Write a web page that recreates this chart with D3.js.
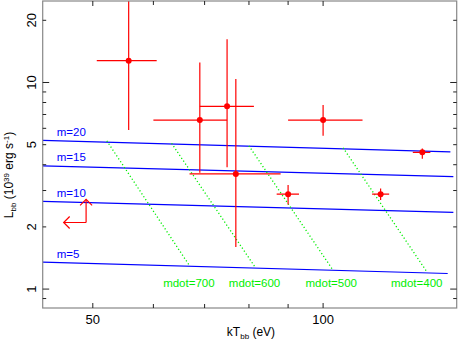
<!DOCTYPE html>
<html><head><meta charset="utf-8">
<script src="https://cdn.jsdelivr.net/npm/d3@7"></script>
<style>body{margin:0;background:#fff}svg{display:block}text{font-family:"Liberation Sans",Arial,Helvetica,sans-serif}</style>
</head><body><svg id="c" width="459" height="343"></svg>
<script>
// ---- axes ----
const xDomain = [43, 149.5];
const yDomain = [0.81, 24.8];
const xTickLabels = [50, 100];
const xTicksMinor = [60, 70, 80, 90];
const yTickLabels = [1, 2, 5, 10, 20];
const yTicksLong = [1, 10];
const yTicksMinor = [0.9, 2, 3, 4, 5, 6, 7, 8, 9, 20];

// ---- data points (kT in eV, L in 1e39 erg/s) ----
const pointT   = [55.7, 69.0, 74.9, 76.9, 100.0, 134.8, 90.0, 118.9];
const pointTlo = [50.6, 60.0, 69.0, 66.9, 90.0, 131.0, 86.96, 115.9];
const pointThi = [60.6, 74.9, 81.2, 88.0, 112.6, 138.1, 93.0, 122.0];
const pointL   = [12.75, 6.58, 7.67, 3.61, 6.58, 4.59, 2.88, 2.88];
const pointLlo = [5.89, 3.66, 3.89, 1.60, 5.53, 4.28, 2.57, 2.70];
const pointLhi = [30, 12.5, 16.2, 10.4, 7.78, 4.79, 3.19, 3.07];

// ---- limit (upper limit on kT, lower limit on L) ----
const limitT = [49.0], limitL = [2.10], limitTto = [45.8], limitLto = [2.72];

// ---- constant-m model lines ----
const mLabels = ["m=20", "m=15", "m=10", "m=5"];
const mT0 = [43, 43, 43, 43];
const mT1 = [146.7, 148, 148, 145.5];
const mL0 = [5.25, 3.95, 2.66, 1.35];
const mL1 = [4.62, 3.50, 2.35, 1.19];

// ---- constant-mdot model lines ----
const mdotLabels = ["mdot=700", "mdot=600", "mdot=500", "mdot=400"];
const mdotT0 = [52.15, 63.38, 79.98, 106.2];
const mdotT1 = [66.97, 81.6, 102.8, 136.5];
const mdotL0 = [5.22, 5.08, 4.94, 4.83];
const mdotL1 = [1.29, 1.268, 1.25, 1.22];

const W = 459, H = 343;
const m = {l: 42.7, r: 456.7, t: 1, b: 308};
const svg = d3.select("#c");
const x = d3.scaleLog().domain(xDomain).range([m.l, m.r]);
const y = d3.scaleLog().domain(yDomain).range([m.b, m.t]);

const RED = "#ff0000", BLUE = "#0000ff", GREEN = "#00ee00";

const defs = svg.append("defs");
defs.append("clipPath").attr("id", "clip").append("rect")
  .attr("x", m.l).attr("y", m.t).attr("width", m.r - m.l).attr("height", m.b - m.t);

const plot = svg.append("g").attr("clip-path", "url(#clip)");

// m lines
mLabels.forEach((lab, i) => {
  plot.append("line")
    .attr("x1", x(mT0[i])).attr("y1", y(mL0[i]))
    .attr("x2", x(mT1[i])).attr("y2", y(mL1[i]))
    .attr("stroke", BLUE).attr("stroke-width", 1.2);
  const tx = 44.85;
  const frac = Math.log(tx / mT0[i]) / Math.log(mT1[i] / mT0[i]);
  const ly = Math.exp(Math.log(mL0[i]) + frac * (Math.log(mL1[i]) - Math.log(mL0[i])));
  svg.append("text").attr("x", x(tx)).attr("y", y(ly) - 5)
    .attr("font-size", 11.5).attr("fill", BLUE).text(lab);
});

// mdot lines
mdotLabels.forEach((lab, i) => {
  plot.append("line")
    .attr("x1", x(mdotT0[i])).attr("y1", y(mdotL0[i]))
    .attr("x2", x(mdotT1[i])).attr("y2", y(mdotL1[i]))
    .attr("stroke", GREEN).attr("stroke-width", 1.3)
    .attr("stroke-dasharray", "1.2,2.3");
  const cx = Math.min(x(mdotT1[i]) - 1, m.r - 40);
  svg.append("text").attr("x", cx).attr("y", 286.5)
    .attr("text-anchor", "middle").attr("font-size", 11.5)
    .attr("fill", GREEN).text(lab);
});

// error bars + points
pointT.forEach((t, i) => {
  plot.append("line")
    .attr("x1", x(pointTlo[i])).attr("x2", x(pointThi[i]))
    .attr("y1", y(pointL[i])).attr("y2", y(pointL[i]))
    .attr("stroke", RED).attr("stroke-width", 1.2);
  plot.append("line")
    .attr("x1", x(t)).attr("x2", x(t))
    .attr("y1", y(pointLlo[i])).attr("y2", y(pointLhi[i]))
    .attr("stroke", RED).attr("stroke-width", 1.2);
  plot.append("circle").attr("cx", x(t)).attr("cy", y(pointL[i]))
    .attr("r", 3).attr("fill", RED);
});

// limit arrows
limitT.forEach((t, i) => {
  const cx = x(t), cy = y(limitL[i]);
  const tx = x(limitTto[i]), ty = y(limitLto[i]);
  const g = plot.append("g").attr("stroke", RED).attr("stroke-width", 1.2).attr("fill", "none");
  g.append("line").attr("x1", cx).attr("y1", cy).attr("x2", tx).attr("y2", cy);
  g.append("line").attr("x1", cx).attr("y1", cy).attr("x2", cx).attr("y2", ty);
  g.append("polyline").attr("points", `${tx + 6},${cy - 6} ${tx},${cy} ${tx + 6},${cy + 6}`);
  g.append("polyline").attr("points", `${cx - 6},${ty + 6} ${cx},${ty} ${cx + 6},${ty + 6}`);
});

// frame
svg.append("rect").attr("x", m.l).attr("y", m.t).attr("width", m.r - m.l).attr("height", m.b - m.t)
  .attr("fill", "none").attr("stroke", "#888").attr("stroke-width", 1.2);

const tk = svg.append("g").attr("stroke", "#222").attr("stroke-width", 1);
// x ticks
xTickLabels.concat(xTicksMinor).forEach(v => {
  const len = xTickLabels.includes(v) ? 5 : 4;
  tk.append("line").attr("x1", x(v)).attr("x2", x(v)).attr("y1", m.b).attr("y2", m.b - len);
  tk.append("line").attr("x1", x(v)).attr("x2", x(v)).attr("y1", m.t).attr("y2", m.t + len);
});
// y ticks
yTicksLong.concat(yTicksMinor).forEach(v => {
  const len = yTicksLong.includes(v) ? 6.5 : 3.5;
  tk.append("line").attr("y1", y(v)).attr("y2", y(v)).attr("x1", m.l).attr("x2", m.l + len);
  tk.append("line").attr("y1", y(v)).attr("y2", y(v)).attr("x1", m.r).attr("x2", m.r - len);
});

// tick labels
xTickLabels.forEach(v => {
  svg.append("text").attr("x", x(v)).attr("y", 324)
    .attr("text-anchor", "middle").attr("font-size", 13).attr("fill", "#000").text(v);
});
yTickLabels.forEach(v => {
  svg.append("text").attr("transform", `translate(35.5,${y(v)}) rotate(-90)`)
    .attr("text-anchor", "middle").attr("font-size", 13).attr("fill", "#000").text(v);
});

// axis titles
const xt = svg.append("text").attr("x", 251).attr("y", 336)
  .attr("text-anchor", "middle").attr("font-size", 12).attr("fill", "#000");
xt.append("tspan").text("kT");
xt.append("tspan").attr("font-size", 8).attr("dy", 3).text("bb");
xt.append("tspan").attr("dy", -3).text(" (eV)");

const yt = svg.append("text").attr("transform", "translate(13,175) rotate(-90)")
  .attr("text-anchor", "middle").attr("font-size", 12).attr("fill", "#000");
yt.append("tspan").text("L");
yt.append("tspan").attr("font-size", 8).attr("dy", 3).text("bb");
yt.append("tspan").attr("dy", -3).text(" (10");
yt.append("tspan").attr("font-size", 8).attr("dy", -4).text("39");
yt.append("tspan").attr("dy", 4).text(" erg s");
yt.append("tspan").attr("font-size", 8).attr("dy", -4).text("-1");
yt.append("tspan").attr("dy", 4).text(")");
</script>
</body></html>
